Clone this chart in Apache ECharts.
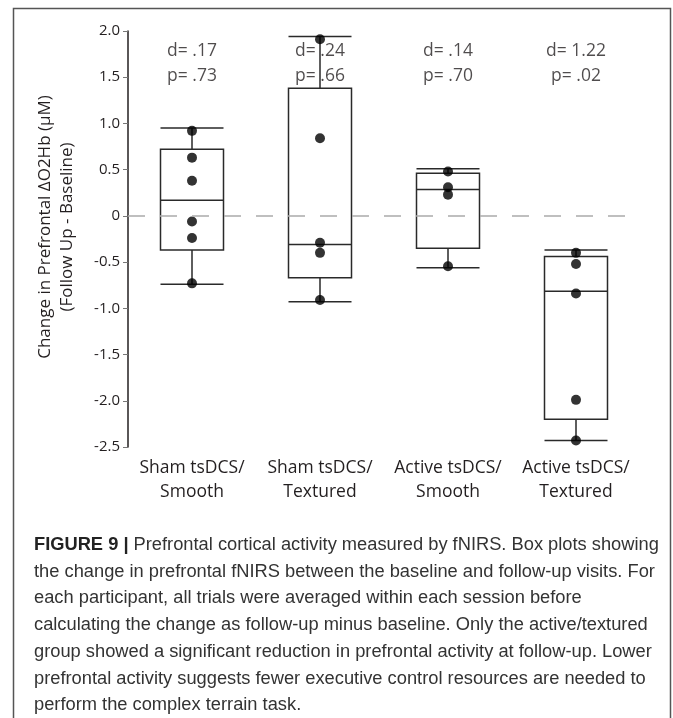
<!DOCTYPE html>
<html>
<head>
<meta charset="utf-8">
<script src="https://cdn.jsdelivr.net/npm/echarts@6/dist/echarts.min.js"></script>
<style>
  html, body { margin: 0; padding: 0; background: #fff; }
  #chart { width: 673px; height: 718px; }
</style>
</head>
<body>
<div id="chart"></div>
<script>
const categories = ["Sham tsDCS/\nSmooth", "Sham tsDCS/\nTextured", "Active tsDCS/\nSmooth", "Active tsDCS/\nTextured"];

// [lower whisker, Q1, median, Q3, upper whisker]
const boxStats = [
  [-0.74, -0.37, 0.17, 0.72, 0.95],
  [-0.93, -0.67, -0.31, 1.38, 1.94],
  [-0.56, -0.35, 0.285, 0.46, 0.51],
  [-2.43, -2.2, -0.815, -0.44, -0.37],
];

const shamSmooth = [0.92, 0.63, 0.38, -0.06, -0.24, -0.73];
const shamTextured = [1.91, 0.84, -0.29, -0.4, -0.91];
const activeSmooth = [0.48, 0.31, 0.23, -0.545];
const activeTextured = [-0.4, -0.52, -0.84, -1.99, -2.43];
const groupPoints = [shamSmooth, shamTextured, activeSmooth, activeTextured];

const dValues = [".17", ".24", ".14", "1.22"];
const pValues = [".73", ".66", ".70", ".02"];
const annotY = 1.65;

const yMin = -2.5;
const yMax = 2.0;
const yStep = 0.5;

const captionLines = [
  "Prefrontal cortical activity measured by fNIRS. Box plots showing",
  "the change in prefrontal fNIRS between the baseline and follow-up visits. For",
  "each participant, all trials were averaged within each session before",
  "calculating the change as follow-up minus baseline. Only the active/textured",
  "group showed a significant reduction in prefrontal activity at follow-up. Lower",
  "prefrontal activity suggests fewer executive control resources are needed to",
  "perform the complex terrain task.",
];

const chart = echarts.init(document.getElementById("chart"));

const pointData = [];
groupPoints.forEach((pts, i) => {
  pts.forEach((v) => pointData.push([i, v]));
});

const captionFont = "Liberation Sans";
const captionSize = 18.3;
const captionGraphics = captionLines.map((line, i) => ({
  type: "text",
  x: 34,
  y: 545 + i * 26.7,
  style: i === 0
    ? {
        text: "{b|FIGURE 9 |} " + line,
        rich: {
          b: { fontWeight: "bold", fontFamily: captionFont, fontSize: captionSize, fill: "#222" },
        },
        fontFamily: captionFont,
        fontSize: captionSize,
        fill: "#333",
        verticalAlign: "middle",
      }
    : {
        text: line,
        fontFamily: captionFont,
        fontSize: captionSize,
        fill: "#333",
        verticalAlign: "middle",
      },
}));

const option = {
  animation: false,
  backgroundColor: "#fff",
  textStyle: { fontFamily: "Open Sans" },
  grid: { left: 128, right: 33, top: 31, bottom: 271 },
  xAxis: {
    type: "category",
    data: categories,
    axisLine: { show: false },
    axisTick: { show: false },
    axisLabel: {
      interval: 0,
      color: "#231f20",
      fontSize: 17.5,
      lineHeight: 24,
      margin: 9,
      fontFamily: "Open Sans",
    },
  },
  yAxis: {
    type: "value",
    min: yMin,
    max: yMax,
    interval: yStep,
    splitLine: { show: false },
    axisLine: { show: true, lineStyle: { color: "#231f20", width: 1.5 } },
    axisTick: { show: true, length: 5, lineStyle: { color: "#777", width: 1 } },
    axisLabel: {
      color: "#231f20",
      fontSize: 15,
      margin: 8,
      fontFamily: "Open Sans",
      formatter: (v) => (v === 0 ? "0" : v.toFixed(1)),
    },
  },
  graphic: [
    {
      type: "rect",
      shape: { x: 13.5, y: 8.5, width: 657, height: 720 },
      style: { fill: "none", stroke: "#555", lineWidth: 1.5 },
      z: -1,
    },
    {
      type: "text",
      x: 45,
      y: 227,
      rotation: Math.PI / 2,
      style: {
        text: "Change in Prefrontal ΔO2Hb (µM)",
        fontFamily: "Open Sans",
        fontSize: 17,
        fill: "#231f20",
        align: "center",
        verticalAlign: "middle",
      },
    },
    {
      type: "text",
      x: 67,
      y: 227,
      rotation: Math.PI / 2,
      style: {
        text: "(Follow Up - Baseline)",
        fontFamily: "Open Sans",
        fontSize: 17,
        fill: "#231f20",
        align: "center",
        verticalAlign: "middle",
      },
    },
    ...captionGraphics,
  ],
  series: [
    {
      name: "annotations",
      type: "scatter",
      z: 1,
      symbolSize: 0,
      data: categories.map((c, i) => [i, annotY]),
      label: {
        show: true,
        position: "inside",
        color: "#231f20",
        fontSize: 17.5,
        lineHeight: 25,
        fontFamily: "Open Sans",
        formatter: (p) => "d= " + dValues[p.dataIndex] + "\np= " + pValues[p.dataIndex],
      },
      markLine: {
        silent: true,
        symbol: "none",
        label: { show: false },
        lineStyle: { color: "#aaa", type: [17, 15], width: 1.5 },
        data: [{ yAxis: 0 }],
      },
    },
    {
      name: "box",
      type: "boxplot",
      z: 2,
      boxWidth: [63, 63],
      data: boxStats,
      itemStyle: { color: "#fff", borderColor: "#2a2a2a", borderWidth: 1.5 },
    },
    {
      name: "points",
      type: "scatter",
      z: 3,
      symbol: "circle",
      symbolSize: 10,
      itemStyle: { color: "#000" },
      data: pointData,
    },
  ],
};

chart.setOption(option);
</script>
</body>
</html>
